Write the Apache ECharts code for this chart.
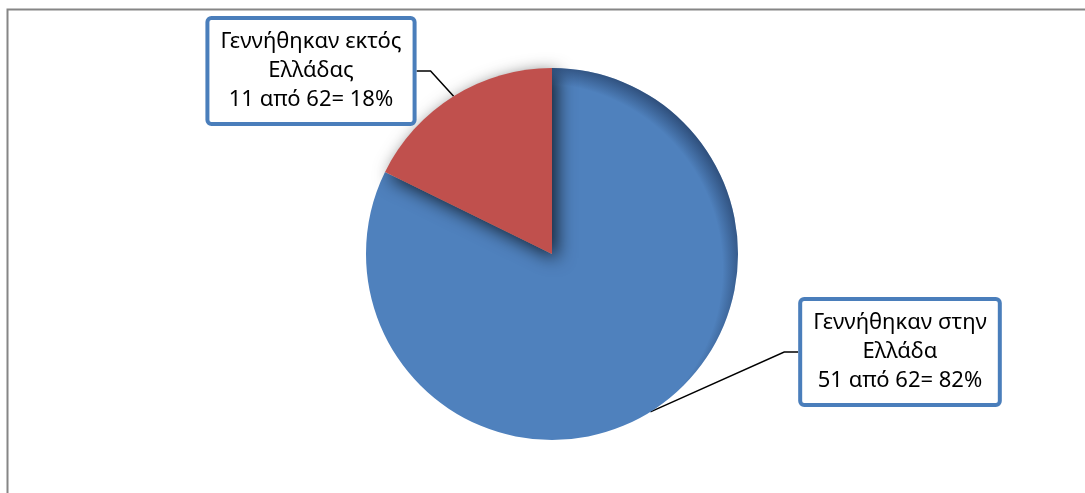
<!DOCTYPE html>
<html>
<head>
<meta charset="utf-8">
<script src="https://cdn.jsdelivr.net/npm/echarts@6/dist/echarts.min.js"></script>
<style>html,body{margin:0;padding:0;background:#fff;}#c{width:1085px;height:493px;}</style>
</head>
<body>
<div id="c"></div>
<script>
const categories = ['Γεννήθηκαν στην Ελλάδα', 'Γεννήθηκαν εκτός Ελλάδας'];
const labelNames = ['Γεννήθηκαν στην\nΕλλάδα', 'Γεννήθηκαν εκτός\nΕλλάδας'];
const values = [51, 11];
const total = 62;
const percentLabels = ['82%', '18%'];
const colors = ['#4F81BD', '#C0504D'];

const chart = echarts.init(document.getElementById('c'));
const labelPos = [{x: 900, y: 352}, {x: 311, y: 71}];
const rimShade = new echarts.graphic.RadialGradient(0.46, 0.54, 0.56, [
  {offset: 0, color: 'rgba(15,30,60,0)'},
  {offset: 0.89, color: 'rgba(15,30,60,0)'},
  {offset: 0.97, color: 'rgba(15,30,60,0.4)'},
  {offset: 1, color: 'rgba(15,30,60,0.55)'}
]);
chart.setOption({
  animation: false,
  backgroundColor: '#fff',
  graphic: [{
    type: 'polyline',
    shape: {points: [[7.5, 493], [7.5, 9.5], [1085, 9.5]]},
    style: {stroke: '#868686', lineWidth: 2, fill: null}
  }],
  series: [{
    type: 'pie',
    center: [552, 254],
    radius: 186,
    startAngle: 90,
    clockwise: true,
    data: categories.map((c, i) => ({
      name: c,
      value: values[i],
      itemStyle: i === 1 ? {color: colors[i], shadowBlur: 18, shadowOffsetX: 5, shadowOffsetY: 5, shadowColor: 'rgba(0,0,0,0.75)'} : {color: colors[i]}
    })),
    label: {
      show: true,
      position: 'outside',
      formatter: p => labelNames[p.dataIndex] + '\n' + values[p.dataIndex] + ' από ' + total + '= ' + percentLabels[p.dataIndex],
      fontFamily: 'Noto Sans',
      fontSize: 22,
      lineHeight: 29,
      color: '#000',
      align: 'center',
      backgroundColor: '#fff',
      borderColor: '#4A7EBB',
      borderWidth: 4,
      borderRadius: 2,
      padding: [7, 11, 8, 11]
    },
    labelLine: {
      show: true,
      length: 35,
      length2: 14,
      lineStyle: {color: '#000', width: 1.5}
    },
    labelLayout: p => ({
      x: labelPos[p.dataIndex].x,
      y: labelPos[p.dataIndex].y,
      align: 'center',
      verticalAlign: 'middle'
    })
  }, {
    type: 'pie',
    silent: true,
    center: [552, 254],
    radius: 186,
    startAngle: 90,
    clockwise: true,
    label: {show: false},
    labelLine: {show: false},
    data: categories.map((c, i) => ({
      name: c,
      value: values[i],
      itemStyle: {color: i === 0 ? rimShade : 'rgba(0,0,0,0)'}
    }))
  }]
});
</script>
</body>
</html>
